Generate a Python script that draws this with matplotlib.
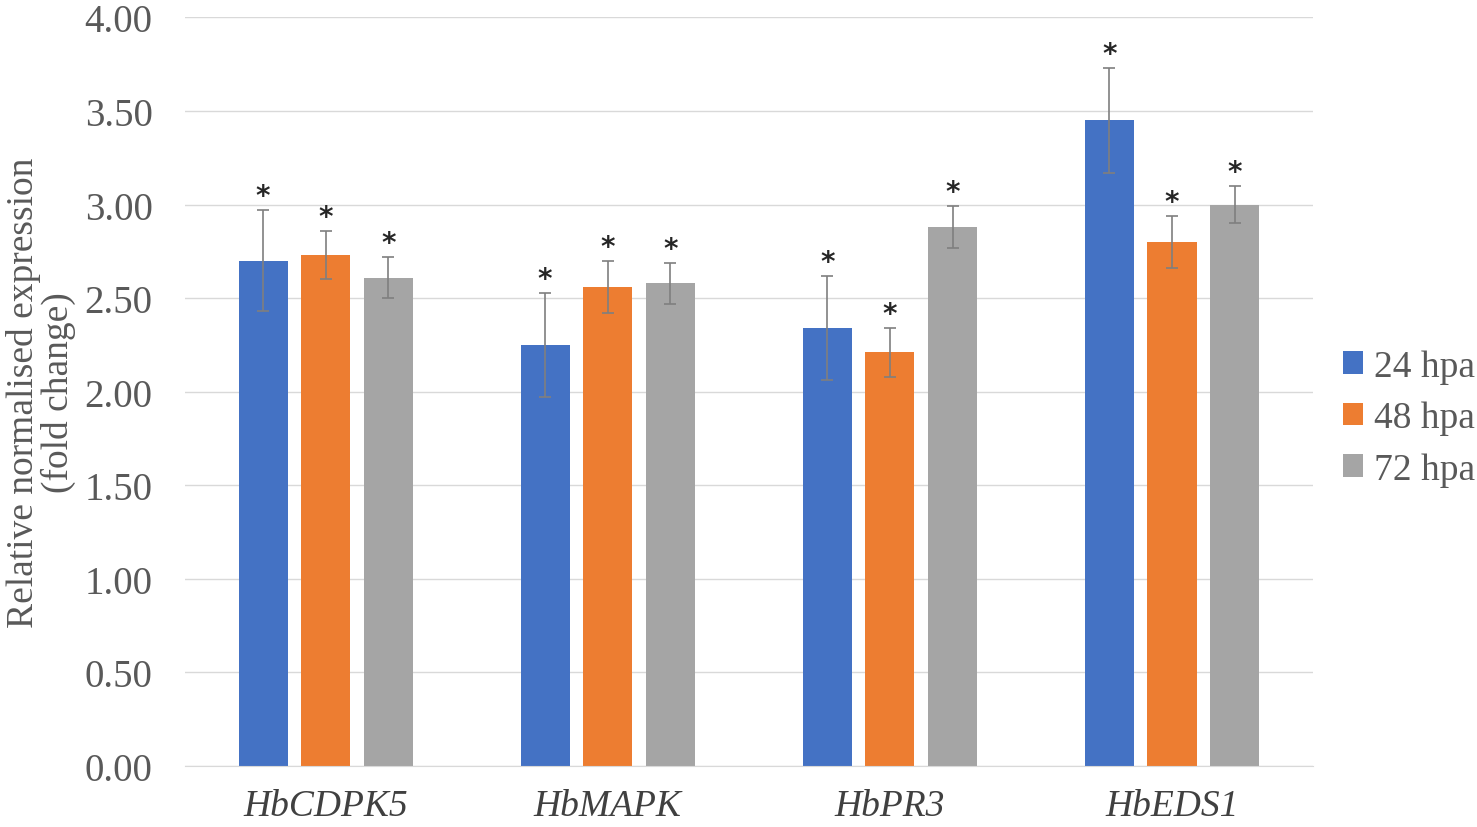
import numpy as np
import matplotlib.pyplot as plt

genes = ['HbCDPK5', 'HbMAPK', 'HbPR3', 'HbEDS1']
series = ['24 hpa', '48 hpa', '72 hpa']
vals_24 = [2.70, 2.25, 2.34, 3.45]
vals_48 = [2.73, 2.56, 2.21, 2.80]
vals_72 = [2.61, 2.58, 2.88, 3.00]
err_24 = [0.27, 0.28, 0.28, 0.28]
err_48 = [0.13, 0.14, 0.13, 0.14]
err_72 = [0.11, 0.11, 0.11, 0.10]
colors = ['#4472c4', '#ed7d31', '#a5a5a5']

plt.rcParams['font.family'] = ['Liberation Serif', 'DejaVu Serif']

fig = plt.figure(figsize=(14.77, 8.28), dpi=100)
ax = fig.add_axes([0.125, 0.0737, 0.764, 0.904])

x = np.arange(len(genes))
width = 0.174
offs = [-0.222, 0.0, 0.222]
for vals, errs, c, lab, o in zip([vals_24, vals_48, vals_72], [err_24, err_48, err_72],
                                 colors, series, offs):
    ax.bar(x + o, vals, width, color=c, label=lab, zorder=2)
    ax.errorbar(x + o, vals, yerr=errs, fmt='none', ecolor='#7f7f7f',
                elinewidth=1.2, capsize=4, capthick=1.2, zorder=3)
    for xi, v, e in zip(x + o, vals, errs):
        ax.text(xi, v + e + 0.075, '*', ha='center', va='center', fontsize=20,
                fontweight='bold', color='#262626', family='DejaVu Sans')

ax.set_xlim(-0.5, 3.5)
ax.set_ylim(0, 4)
ax.set_yticks(np.arange(0, 4.01, 0.5))
ax.set_yticklabels(['%.2f' % t for t in np.arange(0, 4.01, 0.5)], fontsize=28, color='#595959')
ax.set_xticks(x)
ax.set_xticklabels(genes, fontsize=27, style='italic', color='#404040')
ax.tick_params(axis='y', length=0, pad=23)
ax.tick_params(axis='x', length=0, pad=16)
ax.grid(axis='y', color='#d9d9d9', linewidth=1, zorder=0)
for s in ['top', 'right', 'left']:
    ax.spines[s].set_visible(False)
ax.spines['bottom'].set_color('#d9d9d9')
ax.set_ylabel('Relative normalised expression\n(fold change)', fontsize=27,
              color='#595959', linespacing=1.0, labelpad=6)

fig.legend(loc='center left', bbox_to_anchor=(0.909, 0.494), frameon=False,
           fontsize=27, handlelength=0.55, handleheight=0.55, handletextpad=0.3,
           labelspacing=0.45, labelcolor='#595959', borderaxespad=0, borderpad=0)

fig.savefig('out.png', dpi=100)
